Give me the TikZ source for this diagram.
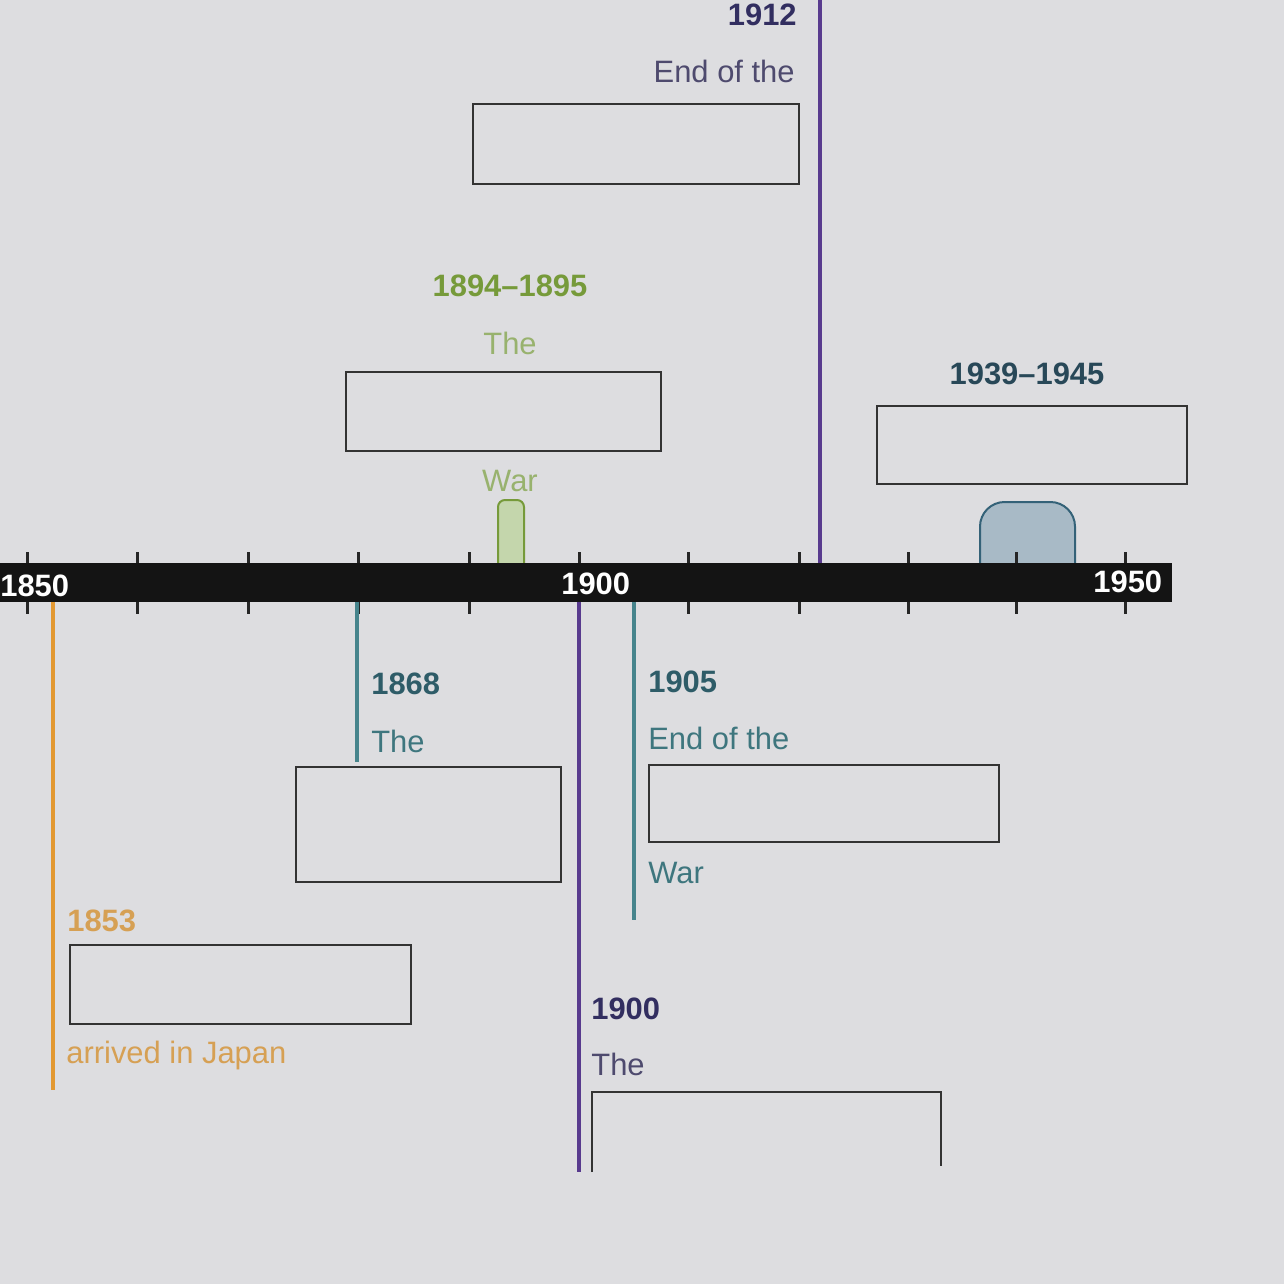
\documentclass[tikz,border=0pt]{standalone}
\usepackage{fontspec}
\setmainfont{Liberation Sans}

% ── Colours ──
\definecolor{screen}{RGB}{221,221,224}
\definecolor{meiji}{RGB}{88,58,142}
\definecolor{meijitext}{RGB}{50,46,96}
\definecolor{meijisoft}{RGB}{78,74,110}
\definecolor{warteal}{RGB}{70,132,140}
\definecolor{tealtext}{RGB}{46,92,104}
\definecolor{tealsoft}{RGB}{62,118,126}
\definecolor{perry}{RGB}{226,152,50}
\definecolor{perrytext}{RGB}{214,160,84}
\definecolor{sino}{RGB}{118,154,58}
\definecolor{sinosoft}{RGB}{152,178,110}
\definecolor{sinofill}{RGB}{196,214,172}
\definecolor{wwtwo}{RGB}{52,98,120}
\definecolor{wwtwofill}{RGB}{168,186,198}
\definecolor{wwtwotext}{RGB}{40,72,88}

\tikzset{
  yearlbl/.style={font=\fontsize{17.6}{20}\selectfont\bfseries, inner sep=0pt},
  eventlbl/.style={font=\fontsize{17.6}{20}\selectfont, inner sep=0pt},
  axislbl/.style={font=\fontsize{17.6}{20}\selectfont\bfseries, text=white, inner sep=0pt},
  answerbox/.style={draw=black!80, line width=0.04cm, inner sep=0pt, anchor=north west},
  eventline/.style={line width=0.08cm},
  tickmark/.style={line width=0.06cm, black!85}
}

\begin{document}
\begin{tikzpicture}[x=0.02cm, y=-0.02cm]

% ── Page ──
\fill[screen] (0,0) rectangle (1284,1284);
\useasboundingbox (0,0) rectangle (1284,1284);

% ── Period markers above the bar ──
\fill[sinofill, draw=sino, line width=0.04cm, rounded corners=4] (498,563) -- (498,500) -- (524,500) -- (524,563);
\fill[wwtwofill, draw=wwtwo, line width=0.04cm, rounded corners=14] (980,563) -- (980,502) -- (1075,502) -- (1075,563);

% ── Ticks ──
\foreach \x in {27,137,248,358,469,579,688,799,908,1016,1125} {
    \draw[tickmark] (\x,552) -- (\x,614);
}

% ── Time bar ──
\fill[black!92] (0,563) rectangle (1172,602);
\node[axislbl, anchor=base west] (y1850) at (0,596) {1850};
\node[axislbl, anchor=base west] (y1900) at (561,594) {1900};
\node[axislbl, anchor=base west] (y1950) at (1093,592) {1950};

% ── 1912 ──
\coordinate (top1912) at (820,0);
\coordinate (bar1912) at (820,563);
\draw[eventline, meiji] (top1912) -- (bar1912);
\node[yearlbl, meijitext, anchor=base east] (lbl1912) at (797,26) {1912};
\node[eventlbl, meijisoft, anchor=base east] (txt1912) at (795,83) {End of the};
\node[answerbox, minimum width=6.52cm, minimum height=1.6cm] (box1912) at (472,103) {};

% ── 1894–1895 ──
\node[yearlbl, sino, anchor=base] (lblsino) at (510,296) {1894--1895};
\node[eventlbl, sinosoft, anchor=base] (txtsino) at (510,354) {The};
\node[answerbox, minimum width=6.3cm, minimum height=1.58cm] (boxsino) at (345,371) {};
\node[eventlbl, sinosoft, anchor=base] (warsino) at (510,491) {War};

% ── 1939–1945 ──
\node[yearlbl, wwtwotext, anchor=base] (lblwwtwo) at (1027,384) {1939--1945};
\node[answerbox, minimum width=6.2cm, minimum height=1.56cm] (boxwwtwo) at (876,405) {};

% ── 1868 ──
\coordinate (bar1868) at (357,602);
\coordinate (end1868) at (357,762);
\draw[eventline, warteal] (bar1868) -- (end1868);
\node[yearlbl, tealtext, anchor=base west] (lbl1868) at (371,694) {1868};
\node[eventlbl, tealsoft, anchor=base west] (txt1868) at (371,752) {The};
\node[answerbox, minimum width=5.3cm, minimum height=2.3cm] (box1868) at (295,766) {};

% ── 1905 ──
\coordinate (bar1905) at (634,602);
\coordinate (end1905) at (634,920);
\draw[eventline, warteal] (bar1905) -- (end1905);
\node[yearlbl, tealtext, anchor=base west] (lbl1905) at (648,692) {1905};
\node[eventlbl, tealsoft, anchor=base west] (txt1905) at (648,749) {End of the};
\node[answerbox, minimum width=7.0cm, minimum height=1.54cm] (box1905) at (648,764) {};
\node[eventlbl, tealsoft, anchor=base west] (war1905) at (648,883) {War};

% ── 1853 ──
\coordinate (bar1853) at (53,602);
\coordinate (end1853) at (53,1090);
\draw[eventline, perry] (bar1853) -- (end1853);
\node[yearlbl, perrytext, anchor=base west] (lbl1853) at (67,931) {1853};
\node[answerbox, minimum width=6.82cm, minimum height=1.58cm] (box1853) at (69,944) {};
\node[eventlbl, perrytext, anchor=base west] (txt1853) at (66,1063) {arrived in Japan};

% ── 1900 ──
\coordinate (bar1900) at (579,602);
\coordinate (end1900) at (579,1172);
\draw[eventline, meiji] (bar1900) -- (end1900);
\node[yearlbl, meijitext, anchor=base west] (lbl1900) at (591,1019) {1900};
\node[eventlbl, meijisoft, anchor=base west] (txt1900) at (591,1075) {The};
\draw[draw=black!80, line width=0.04cm] (592,1172) |- (941,1092) -- (941,1166);

\end{tikzpicture}
\end{document}
